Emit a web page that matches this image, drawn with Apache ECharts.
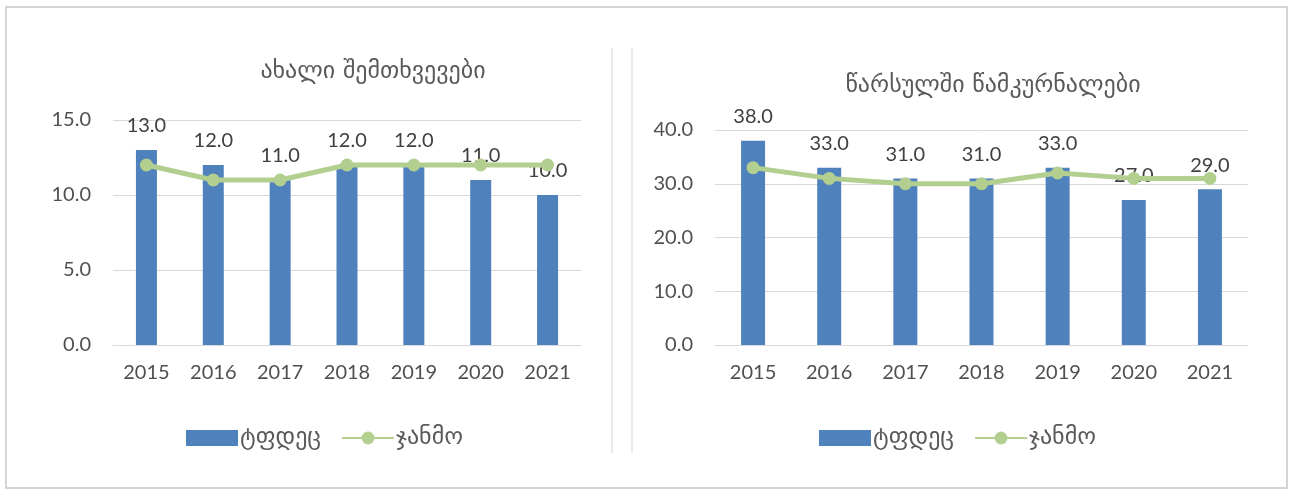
<!DOCTYPE html>
<html>
<head>
<meta charset="utf-8">
<script src="https://cdn.jsdelivr.net/npm/echarts@6/dist/echarts.min.js"></script>
<style>
html,body{margin:0;padding:0;background:#fff;}
#c{width:1293px;height:491px;}
</style>
</head>
<body>
<div id="c"></div>
<script>
// Data
const years = ['2015','2016','2017','2018','2019','2020','2021'];
const titleNew = 'ახალი შემთხვევები';
const titleTreated = 'წარსულში წამკურნალები';
const seriesBarName = 'ტფდეც';
const seriesLineName = 'ჯანმო';
const newBar = [13, 12, 11, 12, 12, 11, 10];
const newLine = [12, 11, 11, 12, 12, 12, 12];
const treatedBar = [38, 33, 31, 31, 33, 27, 29];
const treatedLine = [33, 31, 30, 30, 32, 31, 31];
const newTicks = {min: 0, max: 15, interval: 5};
const treatedTicks = {min: 0, max: 40, interval: 10};

const FONT = "Lato, 'DejaVu Sans', sans-serif";
const GEO = "'DejaVu Sans', sans-serif";
const BLUE = '#4f81bd';
const GREEN = '#b3cf8f';
const GRID = '#d9d9d9';
const TXT = '#595959';

const chart = echarts.init(document.getElementById('c'), null, {renderer: 'canvas'});

function xAxis(gi) {
  return {
    type: 'category', gridIndex: gi, data: years,
    axisLine: {show: true, lineStyle: {color: GRID, width: 1}},
    axisTick: {show: false},
    axisLabel: {color: '#505050', fontFamily: FONT, fontSize: 20, margin: 18}
  };
}
function yAxis(gi, t) {
  return {
    type: 'value', gridIndex: gi, min: t.min, max: t.max, interval: t.interval,
    axisLine: {show: false}, axisTick: {show: false},
    splitLine: {lineStyle: {color: GRID, width: 1}},
    axisLabel: {color: '#505050', fontFamily: FONT, fontSize: 20, margin: 22,
      formatter: v => v.toFixed(1)}
  };
}
function bar(gi, data, w) {
  return {
    name: seriesBarName, type: 'bar', xAxisIndex: gi, yAxisIndex: gi, data: data,
    barWidth: w, itemStyle: {color: BLUE},
    label: {show: true, position: 'top', distance: 14, color: '#404040',
      fontFamily: FONT, fontSize: 20, formatter: p => p.value.toFixed(1)},
    z: 2
  };
}
function line(gi, data) {
  return {
    name: seriesLineName, type: 'line', xAxisIndex: gi, yAxisIndex: gi, data: data,
    symbol: 'circle', symbolSize: 13,
    lineStyle: {color: GREEN, width: 5}, itemStyle: {color: GREEN},
    label: {show: false}, z: 3
  };
}
function legend(left) {
  return {
    left: left, top: 421, itemWidth: 52, itemHeight: 16, itemGap: 20,
    data: [{name: seriesBarName, icon: 'rect'}, {name: seriesLineName}],
    textStyle: {color: TXT, fontFamily: GEO, fontSize: 24, padding: [0,0,0,-3]},
    selectedMode: false
  };
}

chart.setOption({
  animation: false,
  backgroundColor: '#fff',
  title: [
    {text: titleNew, left: 368, top: 55, textAlign: 'center',
      textStyle: {color: TXT, fontFamily: GEO, fontSize: 24, fontWeight: 'normal'}},
    {text: titleTreated, left: 988, top: 69, textAlign: 'center',
      textStyle: {color: TXT, fontFamily: GEO, fontSize: 24, fontWeight: 'normal'}}
  ],
  legend: [legend(181), legend(814)],
  grid: [
    {left: 113, top: 120, width: 468, height: 225},
    {left: 715, top: 130, width: 533, height: 215}
  ],
  xAxis: [xAxis(0), xAxis(1)],
  yAxis: [yAxis(0, newTicks), yAxis(1, treatedTicks)],
  series: [
    bar(0, newBar, 21), line(0, newLine),
    bar(1, treatedBar, 24), line(1, treatedLine)
  ],
  graphic: [
    {type: 'rect', shape: {x: 6, y: 7, width: 1281, height: 481},
      style: {fill: null, stroke: '#d4d4d4', lineWidth: 2}, silent: true},
    {type: 'line', shape: {x1: 612, y1: 48, x2: 612, y2: 453},
      style: {stroke: '#e3e3e3', lineWidth: 1.5}, silent: true},
    {type: 'line', shape: {x1: 632, y1: 48, x2: 632, y2: 453},
      style: {stroke: '#e3e3e3', lineWidth: 1.5}, silent: true}
  ]
});
</script>
</body>
</html>
